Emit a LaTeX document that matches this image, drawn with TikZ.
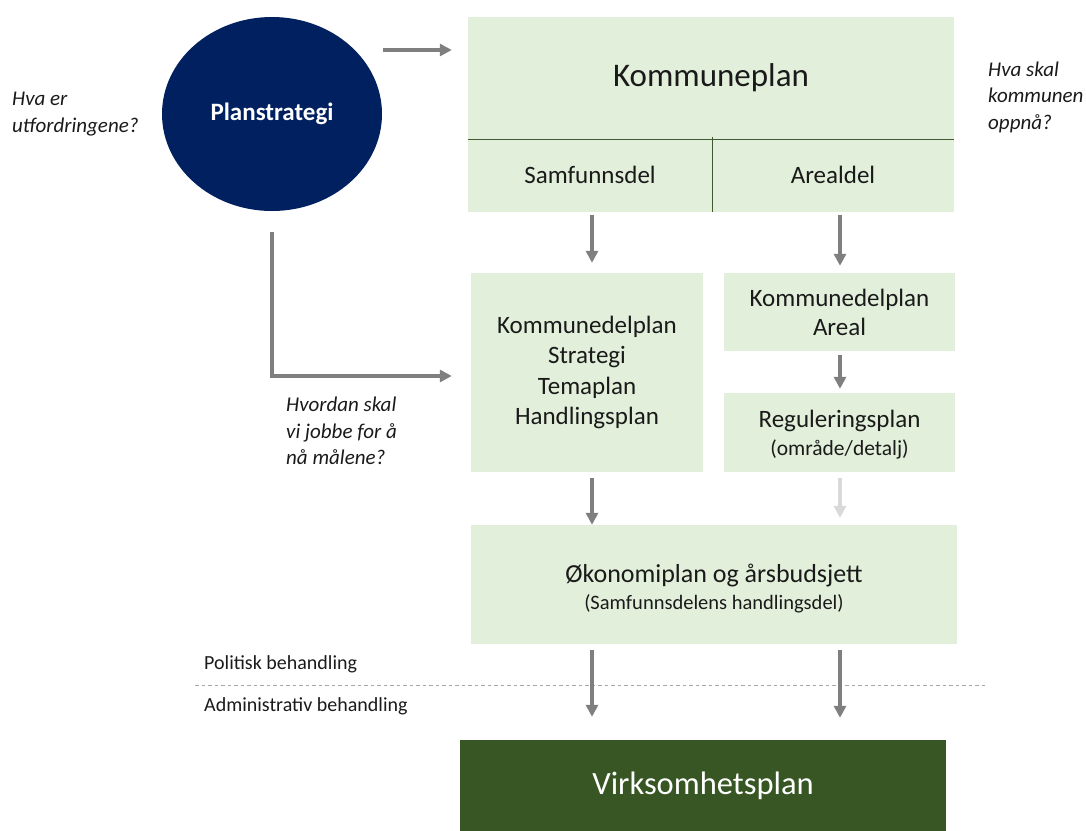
\documentclass[tikz,border=0pt]{standalone}
\usepackage{fontspec}
\setmainfont{Carlito}
\usetikzlibrary{shapes.geometric,arrows.meta,calc}
\definecolor{boxfill}{HTML}{E2EFDA}
\definecolor{navy}{HTML}{002060}
\definecolor{darkgreen}{HTML}{375623}
\definecolor{divline}{HTML}{3F5A2E}
\definecolor{arrgray}{HTML}{7F7F7F}
\definecolor{lightarr}{HTML}{D9D9D9}
\definecolor{dashgray}{HTML}{A6A6A6}
\definecolor{txt}{HTML}{1A1A1A}
\newcommand{\fsz}[1]{\fontsize{#1}{#1}\selectfont}
\begin{document}
\begin{tikzpicture}[x=1pt,y=-1pt,
  box/.style={fill=boxfill, draw=none, inner sep=0pt, text=txt, align=center},
  boxtext/.style={inner sep=0pt, text=txt, align=center},
  arr/.style={draw=arrgray, line width=3.6pt, -{Triangle[width=12pt,length=12pt]}},
  lightarrow/.style={arr, draw=lightarr},
  question/.style={anchor=west, inner sep=0pt, align=left, text=txt, font=\itshape\fsz{21}, execute at begin node=\setlength{\baselineskip}{26.5pt}},
  sidelabel/.style={anchor=west, inner sep=0pt, text=txt, font=\fsz{20}}
]
\useasboundingbox (0,0) rectangle (1086,830);
% coordinates for arrow columns / rows
\coordinate (ca) at (592,0);
\coordinate (cb) at (840,0);
\coordinate (ya) at (0,50);
\coordinate (yb) at (0,376);
\coordinate (dl) at (195,685);
\coordinate (dr) at (987,685);

% Planstrategi circle
\node[ellipse, fill=navy, draw=none, minimum width=220pt, minimum height=194pt, inner sep=0pt,
      text=white, font=\bfseries\fsz{25}] (ps) at (272,114) {Planstrategi};

% Kommuneplan
\node[box, minimum width=486pt, minimum height=122pt, font=\fsz{33}] (kp) at (711,78) {Kommuneplan};
\node[box, minimum width=244pt, minimum height=75pt, font=\fsz{25}] (samf) at (590,174.5) {Samfunnsdel};
\node[box, minimum width=242pt, minimum height=75pt, font=\fsz{25}] (areal) at (833,174.5) {Arealdel};
\draw[divline, line width=1.2pt] (kp.south west) -- (kp.south east);
\draw[divline, line width=1.2pt] (samf.north east) -- (samf.south east);

% second row
\node[box, minimum width=232pt, minimum height=199pt, font=\fsz{25},
      execute at begin node=\setlength{\baselineskip}{30.3pt}] (kdp) at (587,372.5)
      {Kommunedelplan\\Strategi\\Temaplan\\Handlingsplan};
\node[box, minimum width=231pt, minimum height=78pt, font=\fsz{25},
      execute at begin node=\setlength{\baselineskip}{29pt}] (kda) at (839.5,312)
      {Kommunedelplan\\Areal};
\node[box, minimum width=231pt, minimum height=79pt] (reg) at (839.5,432.5) {};
\node[boxtext, font=\fsz{25}] (regt) at (839.5,435)
      {Reguleringsplan\\[3pt]{\fsz{21.5}(område/detalj)}};

% Okonomiplan
\node[box, minimum width=486pt, minimum height=119pt] (oko) at (714,584.5) {};
\node[boxtext, font=\fsz{26}] (okot) at (714,589)
      {Økonomiplan og årsbudsjett\\[1pt]{\fsz{20.5}(Samfunnsdelens handlingsdel)}};

% Virksomhetsplan
\node[fill=darkgreen, draw=none, minimum width=486pt, minimum height=92pt, inner sep=0pt,
      text=white, font=\fsz{32.5}] (virk) at (703,786) {Virksomhetsplan};

% questions
\node[question] (q1) at (12,114) {Hva er\\utfordringene?};
\node[question] (q2) at (988,97) {Hva skal\\kommunen\\oppnå?};
\node[question] (q3) at (286,431) {Hvordan skal\\vi jobbe for å\\nå målene?};

% side labels
\node[sidelabel] (pol) at (204,664) {Politisk behandling};
\node[sidelabel] (adm) at (204,706) {Administrativ behandling};
\draw[dashgray, line width=1pt, dash pattern=on 3.5pt off 3pt] (dl) -- (dr);

% arrows
\draw[arr, shorten <=1pt, shorten >=16pt] (ps.east |- ya) -- (kp.west |- ya);
\draw[arr, shorten <=21pt, shorten >=19pt] (ps.south) |- (kdp.west |- yb);
\draw[arr, shorten <=3pt, shorten >=10pt] (samf.south -| ca) -- (kdp.north -| ca);
\draw[arr, shorten <=3pt, shorten >=7pt] (areal.south -| cb) -- (kda.north -| cb);
\draw[arr, shorten <=4pt, shorten >=4pt] (kda.south -| cb) -- (reg.north -| cb);
\draw[arr, shorten <=6pt, shorten >=0pt] (kdp.south -| ca) -- (oko.north -| ca);
\draw[lightarrow, shorten <=6pt, shorten >=7pt] (reg.south -| cb) -- (oko.north -| cb);
\draw[arr, shorten <=6pt, shorten >=23pt] (oko.south -| ca) -- (virk.north -| ca);
\draw[arr, shorten <=6pt, shorten >=22pt] (oko.south -| cb) -- (virk.north -| cb);
\end{tikzpicture}
\end{document}
